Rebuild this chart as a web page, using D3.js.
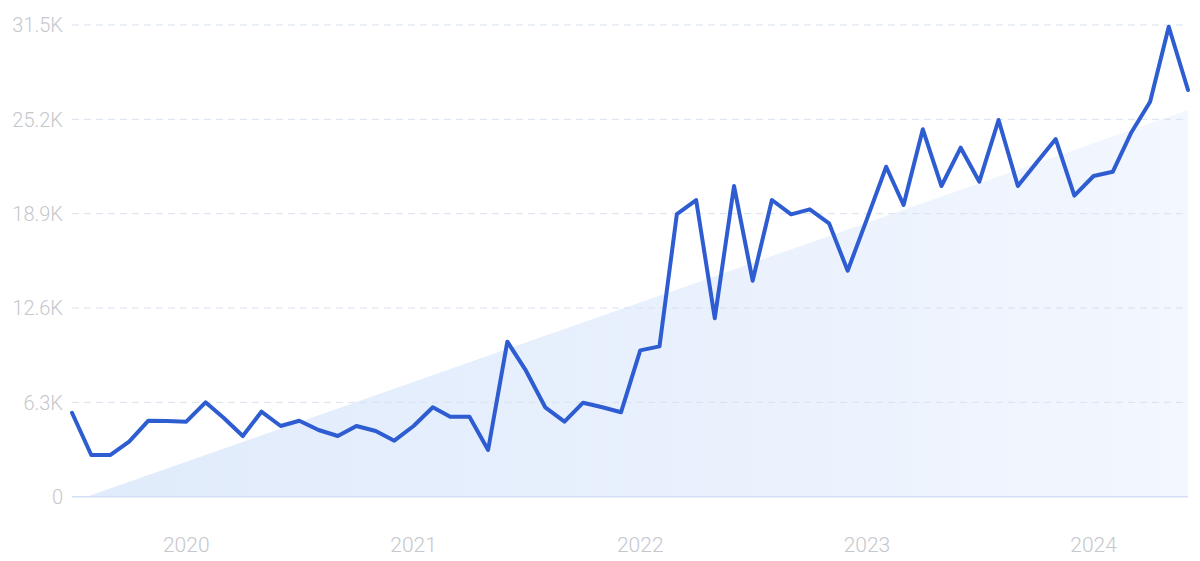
<!DOCTYPE html>
<html>
<head>
<meta charset="utf-8">
<script src="https://cdn.jsdelivr.net/npm/d3@7"></script>
<style>
  html, body { margin: 0; padding: 0; background: #fff; }
  svg { display: block; }
  text { font-family: Roboto, "Noto Sans", sans-serif; font-weight: 300; }
</style>
</head>
<body>
<svg id="chart" width="1200" height="561"></svg>
<script>
// ---- data ----
const startMonth = "2019-07";
const values = [
  5609, 2785, 2785, 3673, 5075, 5055, 5008, 6304, 5275, 4053, 5676, 4721,
  5075, 4454, 4053, 4721, 4387, 3740, 4721, 5970, 5342, 5342, 3118, 10351,
  8414, 5970, 5008, 6277, 5970, 5636, 9770, 10040, 18878, 19813, 11913, 20748,
  14424, 19813, 18858, 19192, 18257, 15092, 18537, 22037, 19479, 24534, 20748, 23306,
  21035, 25155, 20748, 22304, 23887, 20100, 21416, 21703, 24267, 26377, 31386, 27159
];
const trendEnds = [-345, 25823]; // trend value at first and last month
const yTicks = [0, 6300, 12600, 18900, 25200, 31500];
const yTickLabels = ["0", "6.3K", "12.6K", "18.9K", "25.2K", "31.5K"];
const xTickYears = [2020, 2021, 2022, 2023, 2024];

// ---- build ----
(function () {
const parse = d3.timeParse("%Y-%m");
const t0 = parse(startMonth);
const dates = values.map((v, i) => d3.timeMonth.offset(t0, i));
const data = values.map((v, i) => ({ date: dates[i], value: v }));

const svg = d3.select("#chart");
const mLeft = 72, mRight = 1188, mTop = 25, mBottom = 496.7;

const x = d3.scaleTime().domain([dates[0], dates[dates.length - 1]]).range([mLeft, mRight]);
const y = d3.scaleLinear().domain([0, 31500]).range([mBottom, mTop]);

const defs = svg.append("defs");
const grad = defs.append("linearGradient").attr("id", "areaGrad")
  .attr("x1", "0%").attr("y1", "0%").attr("x2", "100%").attr("y2", "0%");
grad.append("stop").attr("offset", "0%").attr("stop-color", "#e0ebfb");
grad.append("stop").attr("offset", "50%").attr("stop-color", "#e8f0fd");
grad.append("stop").attr("offset", "100%").attr("stop-color", "#f3f7fe");
defs.append("clipPath").attr("id", "aboveZero").append("rect")
  .attr("x", 0).attr("y", 0).attr("width", 1200).attr("height", y(0));

// trend area
const trend = [
  { date: dates[0], value: trendEnds[0] },
  { date: dates[dates.length - 1], value: trendEnds[1] }
];
svg.append("path").datum(trend)
  .attr("clip-path", "url(#aboveZero)")
  .attr("fill", "url(#areaGrad)")
  .attr("d", d3.area().x(d => x(d.date)).y0(y(0)).y1(d => y(d.value)));

// grid lines
svg.append("g").selectAll("line").data(yTicks.slice(1)).join("line")
  .attr("x1", mLeft).attr("x2", mRight)
  .attr("y1", d => y(d)).attr("y2", d => y(d))
  .attr("stroke", "#d9e1ee").attr("stroke-width", 1)
  .attr("stroke-dasharray", "7,5");

// zero line
svg.append("line")
  .attr("x1", mLeft).attr("x2", mRight).attr("y1", y(0)).attr("y2", y(0))
  .attr("stroke", "#d3e0f5").attr("stroke-width", 1.5);

// y labels
svg.append("g").selectAll("text").data(yTicks).join("text")
  .attr("x", 63).attr("y", d => y(d)).attr("dy", "0.36em")
  .attr("text-anchor", "end")
  .attr("fill", "#c5c7cd").attr("font-size", 20)
  .text((d, i) => yTickLabels[i]);

// x labels
svg.append("g").selectAll("text").data(xTickYears).join("text")
  .attr("x", d => x(new Date(d, 0, 1))).attr("y", 552)
  .attr("text-anchor", "middle")
  .attr("fill", "#c5c7cd").attr("font-size", 21)
  .text(d => d);

// line
svg.append("path").datum(data)
  .attr("fill", "none")
  .attr("stroke", "#2e5cd1").attr("stroke-width", 4)
  .attr("stroke-linejoin", "round").attr("stroke-linecap", "round")
  .attr("d", d3.line().x(d => x(d.date)).y(d => y(d.value)));
})();
</script>
</body>
</html>
